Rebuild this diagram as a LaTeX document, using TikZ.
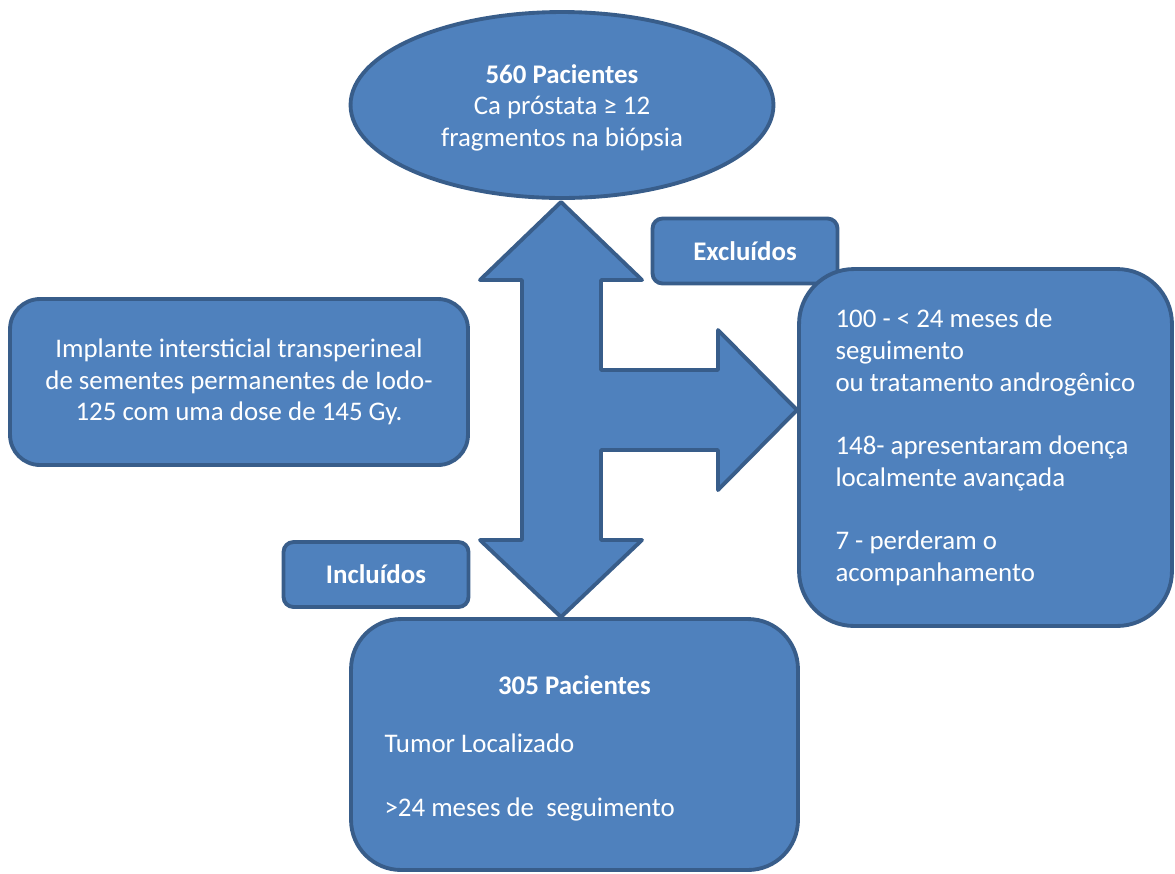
\documentclass[tikz,border=0pt]{standalone}
\usepackage{fontspec}
\setmainfont{Carlito}
\usepackage{xcolor}
\usetikzlibrary{shapes.geometric}
\definecolor{boxfill}{HTML}{4F81BD}
\definecolor{boxline}{HTML}{385D8A}
\tikzset{
    flowbox/.style={
        rectangle,
        draw=boxline,
        line width=2.2pt,
        fill=boxfill,
        text=white,
        font=\fontsize{15.3}{18.1}\selectfont
    },
    startnode/.style={
        ellipse,
        draw=boxline,
        line width=2.2pt,
        fill=boxfill,
        text=white,
        inner sep=0pt,
        font=\fontsize{15.3}{18.1}\selectfont
    },
    tagbox/.style={
        flowbox,
        rounded corners=0.2cm,
        minimum width=3.7cm,
        minimum height=1.3cm,
        font=\fontsize{15.3}{18.1}\selectfont\bfseries
    },
    blockarrow/.style={
        draw=boxline,
        line width=2.2pt,
        fill=boxfill,
        line join=round
    }
}

\begin{document}
\begin{tikzpicture}[x=0.02cm, y=-0.02cm]
\useasboundingbox (0,0) rectangle (1175,873);

% Block arrow (up, down and right)
\draw[blockarrow] (561,202) -- (642,280) -- (601,280) -- (601,370) -- (718,370)
    -- (718,330) -- (797,410) -- (718,490) -- (718,450) -- (601,450) -- (601,540)
    -- (642,540) -- (561,617) -- (480,540) -- (522,540) -- (522,280) -- (480,280) -- cycle;

% Start
\node[startnode, minimum width=8.46cm, minimum height=3.72cm, align=center] (pac) at (562,105)
    {\rule{0pt}{14pt}\textbf{560 Pacientes}\\Ca próstata ≥ 12\\fragmentos na biópsia};

% Treatment
\node[flowbox, rounded corners=0.6cm, minimum width=9.16cm, minimum height=3.32cm, align=center] (impl) at (239,382)
    {Implante intersticial transperineal\\de sementes permanentes de Iodo-\\125 com uma dose de 145 Gy.};

% Excluded
\node[tagbox] (excTag) at (745,251) {Excluídos};
\node[flowbox, rounded corners=1.1cm, minimum width=7.46cm, minimum height=7.14cm,
    text width=6.0cm, align=flush left, inner xsep=0pt] (exc) at (985.5,447.5)
    {100 - < 24 meses de\\seguimento\\ou tratamento androgênico\\[18pt]
     148- apresentaram doença\\localmente avançada\\[18pt]
     7 - perderam o\\acompanhamento};

% Included
\node[tagbox] (incTag) at (376,574.5) {Incluídos};
\node[flowbox, rounded corners=1cm, minimum width=8.94cm, minimum height=5.02cm,
    text width=7.6cm, align=flush left, inner xsep=0pt] (res) at (574.5,744.5)
    {\rule{0pt}{15pt}\makebox[\linewidth]{\textbf{305 Pacientes}}\\[15pt]
     Tumor Localizado\\[18pt]
     >24 meses de \ seguimento};

\end{tikzpicture}
\end{document}
